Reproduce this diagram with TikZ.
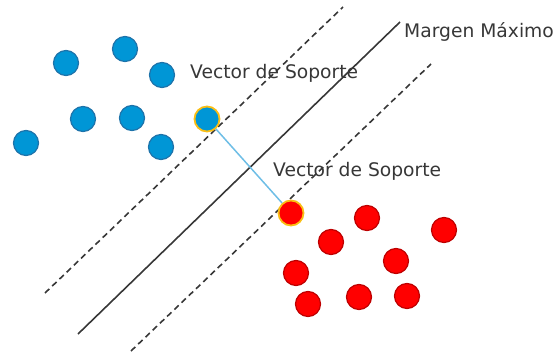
\documentclass[tikz,border=0pt]{standalone}
\usepackage{fontspec}
\setmainfont{DejaVu Sans}
\definecolor{azul}{RGB}{0,150,214}
\definecolor{azulborde}{RGB}{30,115,170}
\definecolor{rojo}{RGB}{255,0,0}
\definecolor{rojoborde}{RGB}{190,0,0}
\definecolor{amarillo}{RGB}{250,190,20}
\definecolor{celeste}{RGB}{110,190,230}
\definecolor{gris}{RGB}{55,55,55}
\tikzset{
	punto/.style={shape=circle,minimum size=25pt,inner sep=0pt,line width=1.2pt},
	azulp/.style={punto,fill=azul,draw=azulborde},
	rojop/.style={punto,fill=rojo,draw=rojoborde},
	soporte/.style={draw=amarillo,line width=1.8pt},
	etiqueta/.style={anchor=west,inner sep=0pt,text=gris,font=\fontsize{18.7}{22}\selectfont},
	linea/.style={draw=gris,line width=1.6pt},
	guia/.style={linea,dash pattern=on 6pt off 4pt}
}
\begin{document}
\begin{tikzpicture}[x=1pt,y=-1pt]
	\useasboundingbox (0,0) rectangle (557,353);
	% hiperplanos
	\coordinate (P1) at (45,293);
	\coordinate (P2) at (343,7);
	\coordinate (M1) at (78,334);
	\coordinate (M2) at (400,22);
	\coordinate (Q1) at (131,351);
	\coordinate (Q2) at (431,64);
	\path[guia] (P1) -- (P2);
	\path[linea] (M1) -- (M2);
	\path[guia] (Q1) -- (Q2);
	
	% clase azul
	\node[azulp] (B1) at (66,63) {};
	\node[azulp] (B2) at (125,49) {};
	\node[azulp] (B3) at (162,75) {};
	\node[azulp] (B4) at (83,119) {};
	\node[azulp] (B5) at (132,118) {};
	\node[azulp] (B6) at (26,143) {};
	\node[azulp] (B7) at (161,147) {};
	\node[azulp,soporte] (S1) at (207,119) {};
	
	% clase roja
	\node[rojop,soporte] (S2) at (291,213) {};
	\node[rojop] (R1) at (367,218) {};
	\node[rojop] (R2) at (331,242) {};
	\node[rojop] (R3) at (444,230) {};
	\node[rojop] (R4) at (396,261) {};
	\node[rojop] (R5) at (296,273) {};
	\node[rojop] (R6) at (308,304) {};
	\node[rojop] (R7) at (359,297) {};
	\node[rojop] (R8) at (407,296) {};
	
	\path (S1) edge[draw=celeste,line width=1.5pt] (S2);
	
	\node[etiqueta] (T1) at (190,73) {Vector de Soporte};
	\node[etiqueta] (T2) at (273,171) {Vector de Soporte};
	\node[etiqueta] (T3) at (404,32) {Margen Máximo};
\end{tikzpicture}
\end{document}
